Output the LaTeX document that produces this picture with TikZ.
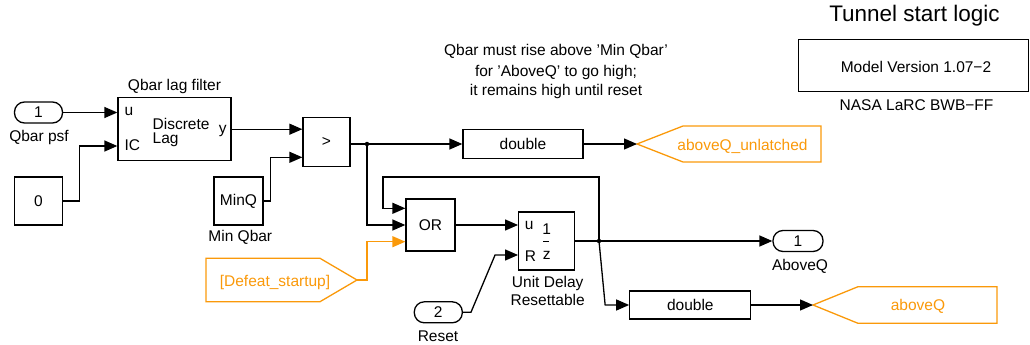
\documentclass[tikz,border=0pt]{standalone}
\usepackage{fontspec}
\setmainfont{Liberation Sans}
\usetikzlibrary{arrows.meta}
\definecolor{gotoorange}{RGB}{250,153,10}

\begin{document}
\begin{tikzpicture}[x=1pt, y=-1pt, line width=1.3pt, >={Triangle[length=13pt,width=11pt]},
  blk/.style={draw, rectangle, inner sep=0pt, font=\fontsize{15.5}{18}\selectfont},
  port/.style={draw, rectangle, rounded corners=10pt, minimum width=48pt, minimum height=21pt, inner sep=0pt, font=\fontsize{15.5}{18}\selectfont},
  txt/.style={inner sep=0pt, anchor=base, font=\fontsize{15.5}{18}\selectfont},
  tag/.style={draw=gotoorange, line width=1.3pt},
  dot/.style={circle, fill, inner sep=0pt, minimum size=4.5pt}]
  \useasboundingbox (0,0) rectangle (1030,345);

  % header and note
  \node[txt, font=\fontsize{22.5}{25}\selectfont] (title) at (914.5,21.7) {Tunnel start logic};
  \node[draw, line width=1pt, minimum width=230pt, minimum height=51pt, inner sep=0pt] (verbox) at (913,65.5) {};
  \node[txt] (vertxt) at (916,72.7) {Model Version 1.07−2};
  \node[txt] (nasa) at (916.5,110) {NASA LaRC BWB−FF};
  \node[txt] (note1) at (556,56) {Qbar must rise above 'Min Qbar'};
  \node[txt] (note2) at (556,76.7) {for 'AboveQ' to go high;};
  \node[txt] (note3) at (556,95) {it remains high until reset};

  % blocks
  \node[port] (qbarin) at (38.5,112.5) {1};
  \node[txt] (qbarinlbl) at (39,141.7) {Qbar psf};
  \node[blk, minimum width=113pt, minimum height=63pt] (lagfilt) at (174.5,129.2) {};
  \node[txt] (laglbl) at (174.5,90.7) {Qbar lag filter};
  \node[txt, anchor=base west] (lagu) at (124,115.7) {u};
  \node[txt, anchor=base west] (lagic) at (124,150) {IC};
  \node[txt, anchor=base west] (lagdisc) at (152,129.3) {Discrete};
  \node[txt, anchor=base west] (laglag) at (152,143.3) {Lag};
  \node[txt, anchor=base west] (lagy) at (218.3,133.3) {y};
  \node[blk, minimum width=48pt, minimum height=48pt] (zeroic) at (38.5,201) {0};
  \node[blk, minimum width=49pt, minimum height=48pt] (minq) at (238.5,201) {MinQ};
  \node[txt] (minqlbl) at (240.3,241.7) {Min Qbar};
  \node[blk, minimum width=47pt, minimum height=49pt] (cmp) at (326.5,142) {>};
  \node[blk, minimum width=120pt, minimum height=29pt] (dblunl) at (523,144) {double};
  \node[blk, minimum width=49pt, minimum height=52pt] (orgate) at (430.5,225) {OR};
  \node[blk, minimum width=56pt, minimum height=58pt] (udelay) at (546.7,241) {};
  \node[txt, anchor=base west] (udu) at (524.3,229.3) {u};
  \node[txt, anchor=base west] (udr) at (524.3,261) {R};
  \node[txt] (udone) at (546.7,234.3) {1};
  \draw[line width=1pt] (543.3,241) -- (549.3,241);
  \node[txt] (udz) at (546.7,259.3) {z};
  \node[txt] (udlbl1) at (547.7,287.7) {Unit Delay};
  \node[txt] (udlbl2) at (547.7,305) {Resettable};
  \node[port] (resetin) at (438.3,312.3) {2};
  \node[txt] (resetlbl) at (438,341) {Reset};
  \node[port, minimum width=50pt] (aboveqout) at (798,241) {1};
  \node[txt] (aboveqlbl) at (800,270) {AboveQ};
  \node[blk, minimum width=121pt, minimum height=28pt] (dblq) at (690.3,305) {double};

  % goto / from tags
  \draw[tag] (637,144) coordinate (g1tip) -- ++(46,-18) -- ++(138,0) -- ++(0,36) -- ++(-138,0) -- cycle;
  \node[txt, text=gotoorange] (g1txt) at (742.5,150) {aboveQ\_unlatched};
  \draw[tag] (813,305) coordinate (g2tip) -- ++(45,-18.3) -- ++(139,0) -- ++(0,36.6) -- ++(-139,0) -- cycle;
  \node[txt, text=gotoorange] (g2txt) at (918,310) {aboveQ};
  \draw[tag] (206,258.3) -- (320,258.3) -- (357,280) coordinate (deftip) -- (320,301.7) -- (206,301.7) -- cycle;
  \node[txt, text=gotoorange] (deftxt) at (275,286.7) {[Defeat\_startup]};

  % lines
  \coordinate (j1) at (367,144);
  \coordinate (j2) at (599,241);
  \coordinate (fbtop) at (383,177);
  \draw[->] (qbarin.east) -- (qbarin.east -| lagfilt.west);
  \draw[->] (zeroic.east) -- ++(16,0) |- ([yshift=-16.8pt]lagfilt.west);
  \draw[->] (lagfilt.east) -- (lagfilt.east -| cmp.west);
  \draw[->] (minq.east) -- ++(7,0) |- ([yshift=-15.3pt]cmp.west);
  \draw[->] ([yshift=-2pt]cmp.east) -- (j1) -- (dblunl.west);
  \draw[->] (dblunl.east) -- (g1tip);
  \draw[->] (j1) |- (orgate.west);
  \draw[->] (j2) |- (fbtop) |- ([yshift=16.7pt]orgate.west);
  \draw[->, gotoorange] (deftip) -- ++(10,0) |- ([yshift=-16.7pt]orgate.west);
  \draw[->] (orgate.east) -- (orgate.east -| udelay.west);
  \draw[->] (resetin.east) -- ++(8,0) -- ([xshift=-23pt,yshift=-14pt]udelay.west) -- ([yshift=-14pt]udelay.west);
  \draw[->] (udelay.east) -- (j2) -- (aboveqout.west);
  \draw[->] (j2) -- ([xshift=-24pt]dblq.west) -- (dblq.west);
  \draw[->] (dblq.east) -- (g2tip);
  \node[dot] (j1dot) at (j1) {};
  \node[dot] (j2dot) at (j2) {};
\end{tikzpicture}
\end{document}
